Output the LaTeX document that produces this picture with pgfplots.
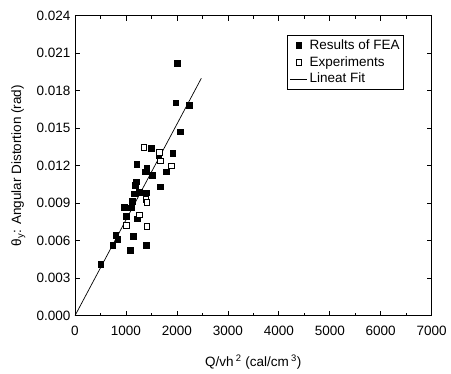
\documentclass[border=0pt]{standalone}
\usepackage{pgfplots}
\pgfplotsset{compat=1.18}
\usepackage{fontspec}
\setmainfont{Liberation Sans}
\begin{document}
\fontsize{13.5}{16}\selectfont
\begin{tikzpicture}
\useasboundingbox (-75pt,-58.3pt) rectangle (376pt,315.7pt);
\begin{axis}[
  at={(0,0)}, anchor=south west,
  scale only axis,
  width=356.7pt, height=300pt,
  xmin=0, xmax=7000, ymin=0, ymax=0.024,
  xtick={0,1000,...,7000},
  ytick={0,0.003,...,0.0241},
  minor x tick num=1,
  tick align=inside,
  major tick length=5pt, minor tick length=3pt,
  axis line style={line width=0.8pt},
  every tick/.style={black, line width=0.7pt},
  scaled y ticks=false,
  scaled x ticks=false,
  /pgf/number format/assume math mode=true,
  /pgf/number format/1000 sep={},
  xticklabel style={yshift=-6pt},
  yticklabel style={/pgf/number format/.cd, fixed, fixed zerofill, precision=3},
  tick label style={font=\fontsize{13.5}{16}\selectfont},
  label style={font=\fontsize{13.5}{16}\selectfont},
  xlabel={Q/vh\,\textsuperscript{2} (cal/cm\,\textsuperscript{3})},
  xlabel style={yshift=-10pt},
  ylabel={θ\textsubscript{y}: Angular Distortion (rad)},
  ylabel style={yshift=2pt},
  legend style={at={(0.922,0.935)}, anchor=north east, draw=black, line width=0.6pt,
    font=\fontsize{13.5}{16}\selectfont, row sep=1pt, inner sep=2pt},
  legend cell align=left,
]
\addplot[only marks, mark=square*, mark size=2.8pt, mark options={fill=black, draw=black}] coordinates {
(506,0.00414)
(740,0.00566)
(800,0.00646)
(840,0.00611)
(1080,0.00526)
(1145,0.00638)
(1395,0.00566)
(970,0.00867)
(1100,0.00864)
(1000,0.00795)
(1225,0.00777)
(1128,0.00915)
(1162,0.00975)
(1262,0.0099)
(1395,0.00984)
(1185,0.01046)
(1200,0.01072)
(1210,0.01214)
(1378,0.01152)
(1410,0.0118)
(1518,0.01126)
(1670,0.01032)
(1790,0.01152)
(1640,0.0128)
(1500,0.0134)
(1915,0.0130)
(2070,0.01472)
(1980,0.01704)
(2240,0.01686)
(2005,0.0202)
};
\addlegendentry{Results of FEA}
\addplot[only marks, mark=square*, mark size=2.8pt, mark options={fill=white, draw=black, line width=0.7pt}] coordinates {
(1002,0.00724)
(1264,0.00806)
(1390,0.0093)
(1410,0.00906)
(1410,0.00717)
(1355,0.01347)
(1658,0.01307)
(1670,0.0124)
(1885,0.01198)
};
\addlegendentry{Experiments}
\addplot[black, line width=0.7pt, no marks] coordinates {(0,0) (2480,0.019)};
\addlegendentry{Lineat Fit}
\end{axis}
\end{tikzpicture}
\end{document}
